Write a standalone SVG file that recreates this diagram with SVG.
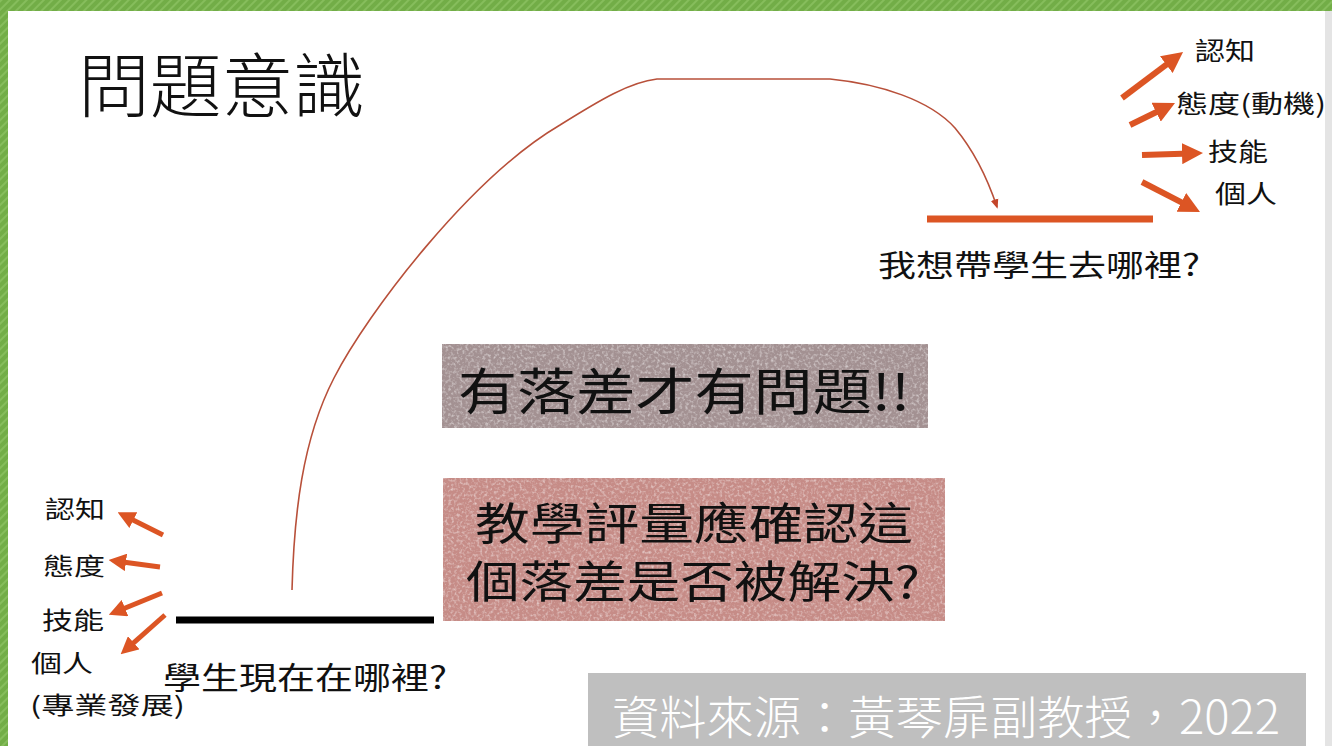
<svg xmlns="http://www.w3.org/2000/svg" width="1332" height="746" viewBox="0 0 1332 746">
  <style>
    .lbl { font-family: "Noto Sans CJK TC", "Noto Sans CJK SC", sans-serif; fill: #111; }
    .box-t { font-family: "Noto Sans CJK TC", "Noto Sans CJK SC", sans-serif; fill: #111; }
    .org { stroke: #dc5524; stroke-width: 6; fill: none; }
    .org-s { stroke: #dc5524; stroke-width: 5; fill: none; }
  </style>
  <defs>
    <pattern id="stripes" width="6" height="6" patternUnits="userSpaceOnUse" patternTransform="rotate(45)">
      <rect width="6" height="6" fill="#72ad47"/>
      <rect width="2" height="6" fill="#86bd5c"/>
    </pattern>
    <marker id="ah" viewBox="0 0 10 10" markerWidth="3.5" markerHeight="3.5" refX="4" refY="5" orient="auto" markerUnits="strokeWidth">
      <path d="M0,0 L10,5 L0,10 z" fill="#dc5524"/>
    </marker>
    <marker id="ahs" viewBox="0 0 10 10" markerWidth="6" markerHeight="6" refX="8" refY="5" orient="auto" markerUnits="strokeWidth">
      <path d="M0,1 L10,5 L0,9 z" fill="#c4452a"/>
    </marker>
    <filter id="grain" x="0" y="0" width="100%" height="100%">
      <feTurbulence type="fractalNoise" baseFrequency="0.35" numOctaves="2" seed="3" result="n"/>
      <feColorMatrix in="n" type="matrix" values="0 0 0 0 1  0 0 0 0 1  0 0 0 0 1  0 0 0 1.2 -0.55" result="w"/>
      <feComposite in="w" in2="SourceGraphic" operator="in"/>
    </filter>
  </defs>

  <!-- background frame -->
  <rect x="0" y="0" width="1332" height="746" fill="#ffffff"/>
  <rect x="0" y="0" width="1332" height="11" fill="url(#stripes)"/>
  <rect x="0" y="0" width="8" height="746" fill="url(#stripes)"/>
  <rect x="1325" y="11" width="7" height="735" fill="#e4e4e4"/>

  <!-- title -->
  <g id="title">
    <text class="lbl" x="78" y="112" font-size="70" font-weight="300" textLength="287" lengthAdjust="spacingAndGlyphs">問題意識</text>
  </g>

  <!-- connectors -->
  <g id="connectors">
    <path d="M292,590 C294,515 302,440 334,378 C368,312 470,178 560,125 C600,100 630,82 657,79 L830,79 C880,84 930,100 955,128 C975,152 988,180 997,207" fill="none" stroke="#b8503a" stroke-width="1.6" marker-end="url(#ahs)"/>
    <!-- top-right arrows -->
    <line class="org" x1="1122" y1="98" x2="1173" y2="59.6" marker-end="url(#ah)"/>
    <line class="org" x1="1130" y1="125" x2="1163.7" y2="108.5" marker-end="url(#ah)"/>
    <line class="org" x1="1142" y1="155" x2="1190.4" y2="153.4" marker-end="url(#ah)"/>
    <line class="org" x1="1142" y1="182" x2="1188.8" y2="206.2" marker-end="url(#ah)"/>
    <!-- bottom-left arrows -->
    <line class="org-s" x1="163" y1="535" x2="127" y2="517" marker-end="url(#ah)"/>
    <line class="org-s" x1="160" y1="567" x2="119" y2="561.5" marker-end="url(#ah)"/>
    <line class="org-s" x1="162" y1="593" x2="118.5" y2="610.7" marker-end="url(#ah)"/>
    <line class="org-s" x1="165" y1="615" x2="128.5" y2="647.4" marker-end="url(#ah)"/>
  </g>

  <!-- current position -->
  <g id="now">
    <line x1="176" y1="620" x2="434" y2="620" stroke="#000" stroke-width="7"/>
    <text class="lbl" x="163" y="689" font-size="31" textLength="284" lengthAdjust="spacingAndGlyphs">學生現在在哪裡?</text>
  </g>

  <!-- target position -->
  <g id="goal">
    <line x1="927" y1="219" x2="1153" y2="219" stroke="#dc5524" stroke-width="7"/>
    <text class="lbl" x="878" y="276" font-size="30" textLength="322" lengthAdjust="spacingAndGlyphs">我想帶學生去哪裡?</text>
  </g>

  <!-- top-right labels -->
  <g id="goal-items">
    <text class="lbl" x="1195" y="60" font-size="25" textLength="60" lengthAdjust="spacingAndGlyphs">認知</text>
    <text class="lbl" x="1176" y="113" font-size="25" textLength="150" lengthAdjust="spacingAndGlyphs">態度(動機)</text>
    <text class="lbl" x="1208" y="161" font-size="25" textLength="60" lengthAdjust="spacingAndGlyphs">技能</text>
    <text class="lbl" x="1215" y="203" font-size="25" textLength="62" lengthAdjust="spacingAndGlyphs">個人</text>
  </g>

  <!-- bottom-left labels -->
  <g id="now-items">
    <text class="lbl" x="45" y="518" font-size="24" textLength="60" lengthAdjust="spacingAndGlyphs">認知</text>
    <text class="lbl" x="43" y="575" font-size="24" textLength="62" lengthAdjust="spacingAndGlyphs">態度</text>
    <text class="lbl" x="42" y="629" font-size="24" textLength="62" lengthAdjust="spacingAndGlyphs">技能</text>
    <text class="lbl" x="31" y="672" font-size="24" textLength="62" lengthAdjust="spacingAndGlyphs">個人</text>
    <text class="lbl" x="30" y="714" font-size="24" textLength="155" lengthAdjust="spacingAndGlyphs">(專業發展)</text>
  </g>

  <!-- box 1 -->
  <g id="box-gap">
    <rect x="442" y="344" width="486" height="84" fill="#a39192"/>
    <rect x="442" y="344" width="486" height="84" fill="#a39192" filter="url(#grain)"/>
    <text class="box-t" x="458" y="410" font-size="50" textLength="452" lengthAdjust="spacingAndGlyphs">有落差才有問題!!</text>
  </g>

  <!-- box 2 -->
  <g id="box-eval">
    <rect x="443" y="478" width="502" height="143" fill="#c68c87"/>
    <rect x="443" y="478" width="502" height="143" fill="#c68c87" filter="url(#grain)"/>
    <text class="box-t" x="475" y="540" font-size="44" textLength="438" lengthAdjust="spacingAndGlyphs">教學評量應確認這</text>
    <text class="box-t" x="466" y="598" font-size="44" textLength="454" lengthAdjust="spacingAndGlyphs">個落差是否被解決?</text>
  </g>

  <!-- source -->
  <g id="source">
    <rect x="588" y="673" width="718" height="73" fill="#bfbfbf"/>
    <text x="612" y="734" font-size="46" fill="#ffffff" font-family="Noto Sans CJK TC, Liberation Serif, serif" font-weight="300" textLength="668" lengthAdjust="spacingAndGlyphs">資料來源：黃琴扉副教授，2022</text>
  </g>
</svg>
